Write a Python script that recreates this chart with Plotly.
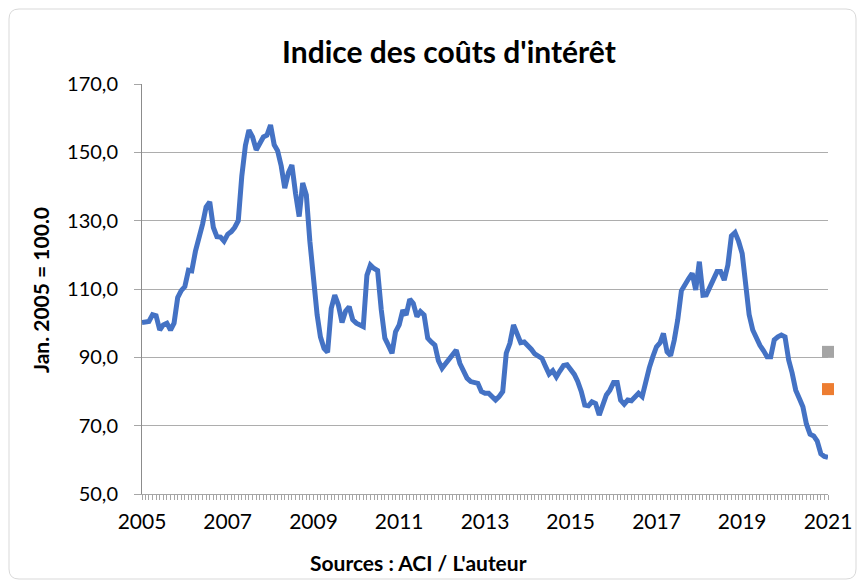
import pandas as pd
import plotly.graph_objects as go

# Monthly index values, Jan 2005 .. Jan 2021
index_values = [
    100.2, 100.3, 100.5, 102.5, 102.2, 98.0, 99.5, 100.0, 98.0, 100.0, 107.5, 109.5,   # 2005
    110.7, 115.5, 115.3, 121.0, 124.5, 129.0, 134.0, 135.5, 128.0, 125.3, 125.2, 124.0, # 2006
    126.0, 126.8, 128.0, 130.0, 143.0, 152.0, 156.5, 154.5, 150.7, 152.5, 154.5, 155.0, # 2007
    158.0, 152.2, 150.5, 146.0, 139.5, 144.0, 146.3, 138.0, 131.2, 141.0, 137.5, 124.0, # 2008
    113.0, 102.4, 96.0, 92.6, 91.5, 104.3, 108.2, 105.3, 100.2, 103.5, 104.8, 101.0,    # 2009
    100.0, 99.5, 99.0, 114.0, 117.0, 116.0, 115.4, 104.0, 95.6, 93.5, 91.2, 97.5,       # 2010
    99.5, 103.8, 102.4, 107.0, 105.8, 101.9, 103.4, 102.4, 95.6, 94.5, 93.6, 89.0,      # 2011
    86.8, 88.2, 89.5, 90.5, 92.1, 88.2, 86.3, 83.9, 82.9, 82.6, 82.4, 80.0,             # 2012
    79.5, 79.5, 78.5, 77.5, 78.5, 80.0, 91.2, 94.1, 99.5, 96.5, 94.3, 94.5,             # 2013
    93.6, 92.3, 91.0, 90.2, 89.7, 87.3, 85.1, 86.1, 84.3, 86.0, 87.6, 87.8,             # 2014
    86.5, 85.0, 83.0, 80.0, 76.0, 75.8, 77.0, 76.5, 73.1, 76.0, 79.0, 80.4,             # 2015
    82.6, 82.6, 77.5, 76.3, 77.5, 77.3, 78.5, 79.5, 78.5, 83.0, 87.0, 90.2,             # 2016
    93.1, 94.3, 97.0, 91.6, 90.5, 95.0, 101.0, 109.5, 111.0, 113.0, 114.6, 109.7,       # 2017
    118.0, 108.2, 108.3, 110.5, 112.5, 115.1, 115.1, 112.6, 117.0, 125.5, 126.5, 124.0, # 2018
    120.4, 110.7, 102.5, 98.0, 95.5, 93.5, 92.0, 90.2, 90.2, 95.1, 96.0, 96.5,          # 2019
    96.0, 89.2, 85.5, 80.4, 78.0, 75.5, 70.5, 67.5, 67.0, 65.5, 61.8, 61.0,             # 2020
    60.7,                                                                                # 2021
]
months = pd.date_range("2005-01-01", periods=len(index_values), freq="MS")

grey_point = [91.6]
orange_point = [80.7]
end_date = [months[-1]]

y_ticks = [50, 70, 90, 110, 130, 150, 170]

FONT = "Lato, 'Open Sans', sans-serif"

# page has an 8px body margin: figure occupies page x 8..865, y 8..588
OFF = 8
FW, FH = 865 - OFF, 588 - OFF

fig = go.Figure()
fig.add_trace(go.Scatter(x=months, y=index_values, mode="lines",
                         line=dict(color="#4472C4", width=5), showlegend=False))
fig.add_trace(go.Scatter(x=end_date, y=grey_point, mode="markers", cliponaxis=False,
                         marker=dict(symbol="square", size=12, color="#A5A5A5"), showlegend=False))
fig.add_trace(go.Scatter(x=end_date, y=orange_point, mode="markers", cliponaxis=False,
                         marker=dict(symbol="square", size=12, color="#ED7D31"), showlegend=False))

# plot area in page pixel coords
L, R, T, B = 142, 828, 84, 494
W, H = R - L, B - T
def px(x): return (x - L) / W
def py(y): return (B - y) / H
x0, x1, yt, yb = px(9), px(856), py(9), py(579)
rx, ry = 10 / W, 10 / H
path = (f"M {x0+rx},{yt} L {x1-rx},{yt} Q {x1},{yt} {x1},{yt-ry} L {x1},{yb+ry} "
        f"Q {x1},{yb} {x1-rx},{yb} L {x0+rx},{yb} Q {x0},{yb} {x0},{yb+ry} "
        f"L {x0},{yt-ry} Q {x0},{yt} {x0+rx},{yt} Z")

fig.update_layout(
    width=FW, height=FH,
    margin=dict(l=L - OFF, r=865 - R, t=T - OFF, b=588 - B),
    paper_bgcolor="white", plot_bgcolor="white",
    separators=", ",
    font=dict(family=FONT, color="#000000", size=20),
    title=dict(text="<b>Indice des coûts d'intérêt</b>", x=(449 - OFF) / FW, xanchor="center",
               y=1 - (52 - OFF) / FH, yanchor="middle", font=dict(size=30, family=FONT, color="#000000")),
    shapes=[dict(type="path", path=path, xref="paper", yref="paper",
                 line=dict(color="#D9D9D9", width=1), layer="below")],
    annotations=[
        dict(text="<b>Jan. 2005 = 100.0</b>", xref="paper", yref="paper",
             x=px(40), y=py(290), xanchor="center", yanchor="middle",
             textangle=-90, showarrow=False,
             font=dict(size=21, family=FONT, color="#000000")),
        dict(text="<b>Sources : ACI / L'auteur</b>", xref="paper", yref="paper",
             x=px(418), y=py(562), xanchor="center", yanchor="middle", showarrow=False,
             font=dict(size=21, family=FONT, color="#000000")),
    ],
)

fig.update_xaxes(
    type="date", range=[months[0], months[-1]],
    tick0="2005-01-01", dtick="M24", tickformat="%Y",
    ticks="outside", ticklen=5, tickcolor="#A6A6A6", ticklabelstandoff=4,
    minor=dict(dtick="M1", ticks="outside", ticklen=5, tickcolor="#A6A6A6", showgrid=False),
    showline=True, linecolor="#A6A6A6", linewidth=1, showgrid=False,
    tickfont=dict(size=21, family=FONT, color="#000000"),
)
fig.update_yaxes(
    range=[50, 170], tickvals=y_ticks, tickformat=".1f",
    ticks="outside", ticklen=7, tickcolor="#A6A6A6", ticklabelstandoff=12,
    showline=True, linecolor="#8C8C8C", linewidth=1,
    showgrid=True, gridcolor="#ADADAD", gridwidth=1, zeroline=False,
    tickfont=dict(size=20, family=FONT, color="#000000"),
)

fig.write_html("out.html")
